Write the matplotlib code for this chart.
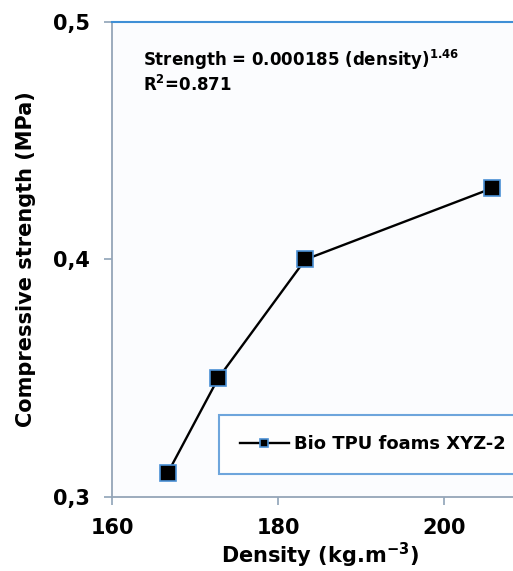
import matplotlib
matplotlib.use("Agg")
import matplotlib.pyplot as plt

# compressive strength vs density of the foams
density = [166.7, 172.8, 183.3, 205.8]
strength = [0.31, 0.35, 0.40, 0.43]
series_name = "Bio TPU foams XYZ-2"

x_ticks = [160, 180, 200]
y_ticks = [0.3, 0.4, 0.5]
y_ticklabels = ["0,3", "0,4", "0,5"]

plt.rcParams['font.family'] = ['DejaVu Sans']
plt.rcParams['font.weight'] = 'bold'

fig = plt.figure(figsize=(5.13, 5.71), dpi=100)
# axes run past the right edge of the figure, so the frame is cut off there
ax = fig.add_axes([0.2183, 0.1296, 0.809, 0.8319])
ax.set_facecolor('#fbfcfe')

ax.plot(density, strength, color='black', lw=1.7, marker='s', markersize=11,
        markerfacecolor='black', markeredgecolor='#4a8fd4', markeredgewidth=1.2,
        label=series_name, zorder=3)

ax.set_xlim(160, 210)
ax.set_ylim(0.3, 0.5)
ax.set_xticks(x_ticks)
ax.set_xticklabels([str(v) for v in x_ticks])
ax.set_yticks(y_ticks)
ax.set_yticklabels(y_ticklabels)
ax.tick_params(axis='both', labelsize=15, color='#8fa3b8', length=6, width=1.2)
ax.tick_params(axis='x', pad=9)
ax.tick_params(axis='y', pad=10)

for side in ('left', 'bottom'):
    ax.spines[side].set_color('#94a5b8')
    ax.spines[side].set_linewidth(1.3)
ax.spines['top'].set_color('#3f8fd6')
ax.spines['top'].set_linewidth(1.5)
ax.spines['right'].set_visible(False)

ax.set_xlabel("Density (kg.m$^{\\mathbf{-3}}$)", fontsize=15, fontweight='bold', labelpad=2)
ax.set_ylabel("Compressive strength (MPa)", fontsize=15, fontweight='bold', labelpad=12)

ax.text(0.075, 0.945, "Strength = 0.000185 (density)$^{\\mathbf{1.46}}$\nR$^{\\mathbf{2}}$=0.871",
        transform=ax.transAxes, fontsize=12, fontweight='bold', va='top', ha='left',
        linespacing=1.15)

leg = ax.legend(loc='lower left', bbox_to_anchor=(0.258, 0.048, 0.8, 0.131),
                mode='expand', fontsize=13, frameon=True, fancybox=False,
                handlelength=2.7, handletextpad=0.3, borderpad=1.15,
                borderaxespad=0, markerscale=0.55)
leg.get_frame().set_edgecolor('#4a8fd4')
leg.get_frame().set_linewidth(1.5)
leg.get_frame().set_facecolor('white')

fig.savefig("out.png", dpi=100)
